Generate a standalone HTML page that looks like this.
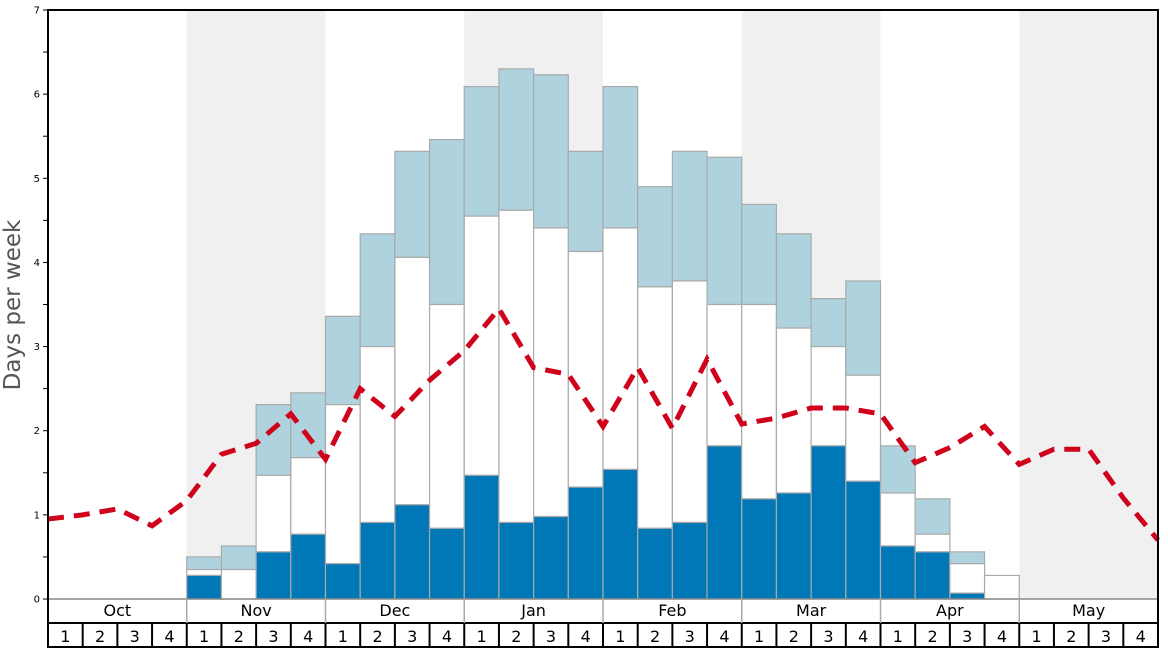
<!DOCTYPE html>
<html><head><meta charset="utf-8"><style>
html,body{margin:0;padding:0;background:#fff;}
svg{display:block;font-family:"DejaVu Sans","Liberation Sans",sans-serif;}
</style></head><body>
<svg id="c" width="1168" height="648" viewBox="0 0 1168 648" xmlns="http://www.w3.org/2000/svg"></svg>
<script>
const s=document.getElementById('c');
const L=48,R=1158,T=10,B=599,W=(R-L)/32,U=(B-T)/7;
const y=v=>B-v*U;
let h='';
[[4,8],[12,16],[20,24],[28,32]].forEach(([a,b])=>{h+=`<rect x="${L+a*W}" y="${T}" width="${(b-a)*W}" height="${B-T}" fill="#f0f0f0"/>`;});
const bars={4:[.28,.35,.5],5:[0,.35,.63],6:[.56,1.47,2.31],7:[.77,1.68,2.45],8:[.42,2.31,3.36],9:[.91,3.0,4.34],10:[1.12,4.06,5.32],11:[.84,3.5,5.46],12:[1.47,4.55,6.09],13:[.91,4.62,6.3],14:[.98,4.41,6.23],15:[1.33,4.13,5.32],16:[1.54,4.41,6.09],17:[.84,3.71,4.9],18:[.91,3.78,5.32],19:[1.82,3.5,5.25],20:[1.19,3.5,4.69],21:[1.26,3.22,4.34],22:[1.82,3.0,3.57],23:[1.4,2.66,3.78],24:[.63,1.26,1.82],25:[.56,.77,1.19],26:[.07,.42,.56],27:[0,.28,.28]};
for(const k in bars){const [a,b,c]=bars[k];const x=L+k*W;
 if(c>b)h+=`<rect x="${x}" y="${y(c)}" width="${W}" height="${(c-b)*U}" fill="#aed3df" stroke="#aaa" stroke-width="1.2"/>`;
 if(b>a)h+=`<rect x="${x}" y="${y(b)}" width="${W}" height="${(b-a)*U}" fill="#fff" stroke="#aaa" stroke-width="1.2"/>`;
 if(a>0)h+=`<rect x="${x}" y="${y(a)}" width="${W}" height="${a*U}" fill="#0077b6" stroke="#aaa" stroke-width="1.2"/>`;
}
const ln=[.95,1.0,1.07,.87,1.17,1.72,1.85,2.2,1.66,2.5,2.17,2.6,2.95,3.45,2.75,2.67,2.05,2.75,2.03,2.85,2.08,2.15,2.27,2.27,2.2,1.62,1.8,2.05,1.6,1.78,1.78,1.2,.7];
h+=`<polyline points="${ln.map((v,i)=>(L+i*W)+','+y(v)).join(' ')}" fill="none" stroke="#d0021b" stroke-width="5" stroke-dasharray="16,10"/>`;
h+=`<line x1="${L}" y1="${B}" x2="${R}" y2="${B}" stroke="#888" stroke-width="1.5"/>`;
h+=`<path d="M${L} ${T}H${R}V647H${L}Z" fill="none" stroke="#000" stroke-width="2"/>`;
h+=`<line x1="${L}" y1="623" x2="${R}" y2="623" stroke="#000" stroke-width="2"/>`;
for(let v=0;v<=7;v+=.5){const yy=y(v);h+=`<line x1="${L-5}" y1="${yy}" x2="${L}" y2="${yy}" stroke="#000" stroke-width="1"/>`;
 if(v%1==0)h+=`<text x="${L-8}" y="${yy+3.5}" font-size="10" text-anchor="end">${v}</text>`;}
const m=['Oct','Nov','Dec','Jan','Feb','Mar','Apr','May'];
m.forEach((n,i)=>{const x=L+i*4*W;if(i>0)h+=`<line x1="${x}" y1="${B}" x2="${x}" y2="623" stroke="#aaa" stroke-width="1.5"/>`;
 h+=`<text x="${x+2*W}" y="616" font-size="16" text-anchor="middle">${n}</text>`;});
for(let i=0;i<32;i++){const x=L+i*W;if(i>0)h+=`<line x1="${x}" y1="623" x2="${x}" y2="647" stroke="#000" stroke-width="2"/>`;
 h+=`<text x="${x+W/2}" y="642" font-size="16" text-anchor="middle">${i%4+1}</text>`;}
h+=`<text transform="translate(20,305) rotate(-90)" font-size="23" fill="#555" text-anchor="middle">Days per week</text>`;
s.innerHTML=h;
</script>
</body></html>
